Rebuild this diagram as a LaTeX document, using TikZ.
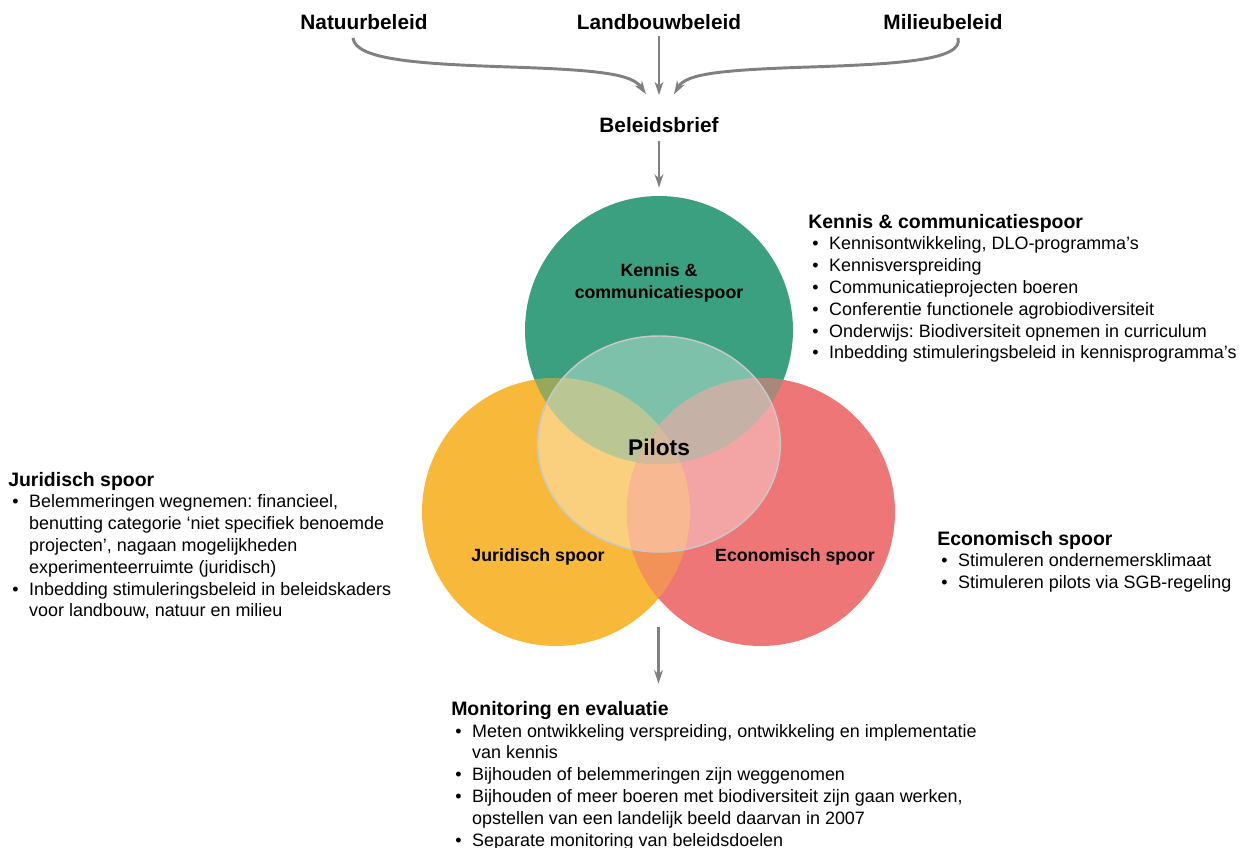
\documentclass[tikz,border=0pt]{standalone}
\usepackage{fontspec}
\setmainfont{Liberation Sans}
\usepackage{tikz}
\usetikzlibrary{arrows.meta,shapes.geometric,calc}

\definecolor{groen}{RGB}{58,160,127}
\definecolor{geel}{RGB}{248,184,58}
\definecolor{rood}{RGB}{238,118,118}
\definecolor{groengeel}{RGB}{150,168,90}
\definecolor{groenrood}{RGB}{168,136,120}
\definecolor{geelrood}{RGB}{243,146,88}
\definecolor{drie}{RGB}{190,150,100}
\definecolor{pijlgrijs}{RGB}{128,128,128}
\definecolor{randgrijs}{RGB}{200,200,200}

\newcommand{\punt}{\textbullet}
\newcommand{\straal}{100.5pt}

\begin{document}
\frenchspacing
\begin{tikzpicture}[x=0.75pt,y=-0.75pt,
    pijl/.style={draw=pijlgrijs,line width=2.2pt,-{Stealth[length=10pt,width=6.5pt,inset=3pt]}},
    beleid/.style={font=\fontsize{15.6}{18}\selectfont\bfseries,anchor=base},
    spoor/.style={circle,minimum size=2*\straal,inner sep=0pt},
    label/.style={font=\fontsize{13.3}{16.5}\selectfont\bfseries,align=center},
    kop/.style={font=\fontsize{14.6}{17}\selectfont\bfseries,anchor=base west,inner sep=0pt},
    lijst/.style={font=\fontsize{13.45}{16.35}\selectfont,anchor=base west,inner sep=0pt}]
        \useasboundingbox (0,0) rectangle (1247,848);

        % beleid bovenaan
        \node[beleid] (natuur) at (364,30) {Natuurbeleid};
        \node[beleid] (landbouw) at (659,30) {Landbouwbeleid};
        \node[beleid] (milieu) at (943,30) {Milieubeleid};
        \node[beleid] (brief) at (659,133) {Beleidsbrief};

        \draw[pijl] ($(natuur.south)+(-11,3)$) .. controls (355,60) and (420,64) .. (510,67)
            .. controls (600,70) and (632,74) .. ($(brief.north)+(-13,-19)$);
        \draw[pijl] ($(milieu.south)+(15,3)$) .. controls (964,60) and (900,64) .. (810,67)
            .. controls (718,70) and (686,74) .. ($(brief.north)+(15,-19)$);
        \draw[pijl] ($(landbouw.south)+(0,1)$) -- ($(brief.north)+(0,-18)$);

        % de drie sporen
        \node[spoor,fill=groen] (kennis) at (659,330) {};
        \node[spoor,fill=geel] (juridisch) at (556,512) {};
        \node[spoor,fill=rood] (economisch) at (761,512) {};
        % overlappingen
        \begin{scope}
            \clip (juridisch.center) circle[radius=\straal];
            \fill[geelrood] (economisch.center) circle[radius=\straal];
        \end{scope}
        \begin{scope}
            \clip (kennis.center) circle[radius=\straal];
            \fill[groengeel] (juridisch.center) circle[radius=\straal];
            \fill[groenrood] (economisch.center) circle[radius=\straal];
            \clip (juridisch.center) circle[radius=\straal];
            \fill[drie] (economisch.center) circle[radius=\straal];
        \end{scope}
        \node[ellipse,minimum width=182pt,minimum height=162pt,draw=randgrijs,line width=1.1pt,
            fill=white,fill opacity=0.35] (pilotsVeld) at (659,444) {};

        \node[label] (kennisLabel) at (659,283) {Kennis \&\\communicatiespoor};
        \node[label] (juridischLabel) at (538,557) {Juridisch spoor};
        \node[label] (economischLabel) at (795,557) {Economisch spoor};
        \node[font=\fontsize{17}{20}\selectfont\bfseries] (pilots) at (659,447) {Pilots};

        \draw[pijl,shorten <=2pt,shorten >=6pt] (brief.south) -- (kennis.north);

        % toelichting per spoor
        \node[kop] (kennisKop) at (808,229) {Kennis \& communicatiespoor};
        \node[lijst] (kennisLijst) at (812,250) {\begin{tabular}[t]{@{}p{12.7pt}@{}l@{}}
            \punt & Kennisontwikkeling, DLO-programma’s\\
            \punt & Kennisverspreiding\\
            \punt & Communicatieprojecten boeren\\
            \punt & Conferentie functionele agrobiodiversiteit\\
            \punt & Onderwijs: Biodiversiteit opnemen in curriculum\\
            \punt & Inbedding stimuleringsbeleid in kennisprogramma’s
        \end{tabular}};

        \node[kop] (juridischKop) at (8,487) {Juridisch spoor};
        \node[lijst] (juridischLijst) at (12,508) {\begin{tabular}[t]{@{}p{12.7pt}@{}l@{}}
            \punt & Belemmeringen wegnemen: financieel,\\
            & benutting categorie ‘niet specifiek benoemde\\
            & projecten’, nagaan mogelijkheden\\
            & experimenteerruimte (juridisch)\\
            \punt & Inbedding stimuleringsbeleid in beleidskaders\\
            & voor landbouw, natuur en milieu
        \end{tabular}};

        \node[kop] (economischKop) at (937,546) {Economisch spoor};
        \node[lijst] (economischLijst) at (941,567) {\begin{tabular}[t]{@{}p{12.7pt}@{}l@{}}
            \punt & Stimuleren ondernemersklimaat\\
            \punt & Stimuleren pilots via SGB-regeling
        \end{tabular}};

        % monitoring onderaan
        \node[kop] (monitorKop) at (451,715) {Monitoring en evaluatie};
        \node[lijst] (monitorLijst) at (455,737) {\begin{tabular}[t]{@{}p{12.7pt}@{}l@{}}
            \punt & Meten ontwikkeling verspreiding, ontwikkeling en implementatie\\
            & van kennis\\
            \punt & Bijhouden of belemmeringen zijn weggenomen\\
            \punt & Bijhouden of meer boeren met biodiversiteit zijn gaan werken,\\
            & opstellen van een landelijk beeld daarvan in 2007\\
            \punt & Separate monitoring van beleidsdoelen
        \end{tabular}};

        \coordinate (onder) at ($(juridisch.south)!0.5!(economisch.south)$);
        \draw[pijl] ($(onder)+(0,-19)$) -- ($(onder |- monitorKop.north)+(0,-17)$);
    \end{tikzpicture}
\end{document}
